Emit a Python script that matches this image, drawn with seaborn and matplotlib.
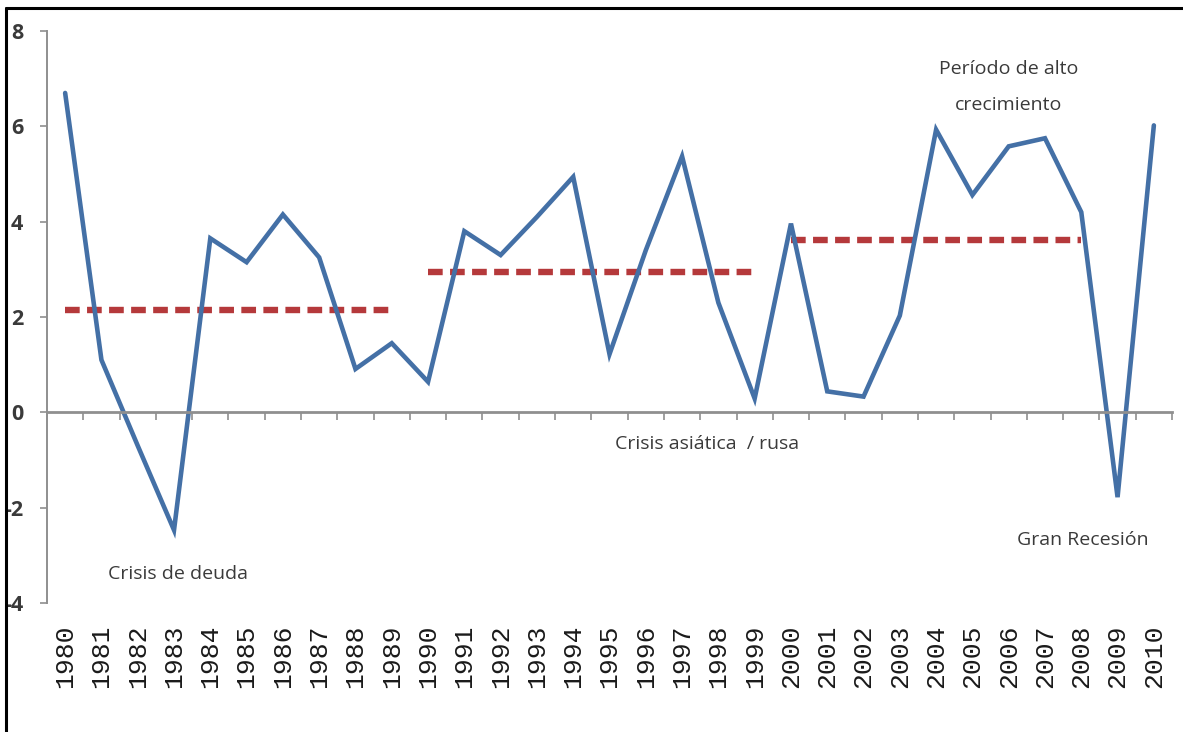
import matplotlib
matplotlib.use("Agg")
import matplotlib.pyplot as plt
from matplotlib.lines import Line2D
import seaborn as sns
import pandas as pd

# ---- data ----
years = list(range(1980, 2011))
growth = [6.7, 1.1, -0.7, -2.47, 3.65, 3.15, 4.15, 3.25, 0.91, 1.45,
          0.64, 3.8, 3.3, 4.1, 4.94, 1.22, 3.4, 5.37, 2.3, 0.29,
          3.96, 0.44, 0.33, 2.03, 5.93, 4.56, 5.58, 5.75, 4.2, -1.78, 6.02]
avg_periods = ["1980s", "1990s", "2000s"]
avg_start = [1980, 1990, 2000]
avg_end = [1989, 1999, 2008]
avg_value = [2.14, 2.94, 3.62]
y_ticks = [-4, -2, 0, 2, 4, 6, 8]
annotations = [
    ("Crisis de deuda", 1983.1, -3.4),
    ("Crisis asiática  / rusa", 1997.7, -0.66),
    ("Gran Recesión", 2008.05, -2.68),
    ("Período de alto\ncrecimiento", 2006.0, 6.83),
]

df = pd.DataFrame({"year": years, "growth": growth})
avg_df = pd.DataFrame({
    "period": [p for p in avg_periods for _ in range(2)],
    "year": [v for s, e in zip(avg_start, avg_end) for v in (s, e)],
    "value": [v for v in avg_value for _ in range(2)],
})

sns.set_theme(style="white")
plt.rcParams["font.family"] = ["Open Sans", "DejaVu Sans"]

W, H = 1183, 732
fig = plt.figure(figsize=(W / 100, H / 100), dpi=100)
ax = fig.add_axes([47 / W, 1 - 603 / H, (1172 - 47) / W, (603 - 31) / H])

sns.lineplot(data=avg_df, x="year", y="value", units="period", estimator=None,
             color="#b5393b", lw=4.6, linestyle=(0, (2.3, 1.15)),
             solid_capstyle="butt", ax=ax, legend=False)
sns.lineplot(data=df, x="year", y="growth", color="#4470a6", lw=3.3, ax=ax,
             solid_joinstyle="miter")

ax.set_xlim(1979.5, 2010.5)
ax.set_ylim(-4, 8)
ax.set_xlabel("")
ax.set_ylabel("")

axis_grey = "#8f8f8f"
for s in ["top", "right"]:
    ax.spines[s].set_visible(False)
ax.spines["left"].set_color(axis_grey)
ax.spines["left"].set_linewidth(1.4)
ax.spines["bottom"].set_position(("data", 0))
ax.spines["bottom"].set_color(axis_grey)
ax.spines["bottom"].set_linewidth(2.0)

ax.set_yticks(y_ticks)
ax.set_yticklabels([str(t) for t in y_ticks], fontsize=15.5, fontweight="bold",
                   color="#3a3a3a")
ax.tick_params(axis="y", direction="out", length=5, width=1.2, color=axis_grey,
               pad=12, left=True)

ax.set_xticks(years)
ax.set_xticks([y + 0.5 for y in [years[0] - 1] + years], minor=True)
# distance (points) from the zero spine down to below the plot area
pad_pts = (603 - 411 + 20) * 72 / 100
ax.set_xticklabels([str(y) for y in years], rotation=90, va="top")
ax.tick_params(axis="x", which="major", length=0, pad=pad_pts, bottom=True)
ax.tick_params(axis="x", which="minor", direction="out", length=6, width=1.2,
               color=axis_grey, bottom=True)
for lbl in ax.get_xticklabels():
    lbl.set_fontfamily(["Liberation Mono", "DejaVu Sans Mono"])
    lbl.set_fontsize(19)
    lbl.set_fontweight("normal")
    lbl.set_color("#1a1a1a")

for txt, x, y in annotations:
    ax.text(x, y, txt, ha="center", va="center", fontsize=14,
            color="#3a3a3a", linespacing=2.3)

# black frame on left and top edges
fig.add_artist(Line2D([6 / W, 6 / W], [0, 1 - 8 / H], color="black", lw=2.2,
                      transform=fig.transFigure))
fig.add_artist(Line2D([6 / W, 1], [1 - 8 / H, 1 - 8 / H], color="black", lw=2.2,
                      transform=fig.transFigure))

fig.savefig("out.png", dpi=100, facecolor="white")
